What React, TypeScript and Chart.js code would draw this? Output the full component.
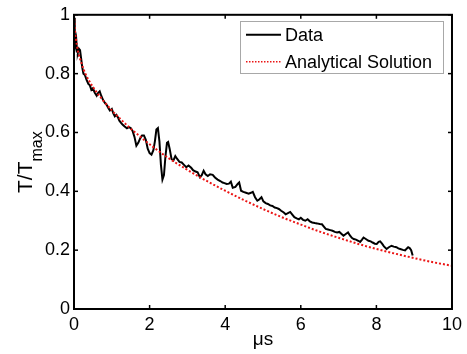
import React, { useEffect, useRef } from "react";
import { Chart, registerables } from "chart.js";
Chart.register(...registerables);

const FONT = "'Liberation Sans', Arial, Helvetica, sans-serif";

const seriesNames = ["Data", "Analytical Solution"];
const xTicks = [0, 2, 4, 6, 8, 10];
const xTickLabels = ["0", "2", "4", "6", "8", "10"];
const yTicks = [0, 0.2, 0.4, 0.6, 0.8, 1];
const yTickLabels = ["0", "0.2", "0.4", "0.6", "0.8", "1"];

const dataT = [
  0.0, 0.02, 0.04, 0.06, 0.08, 0.1, 0.13, 0.16, 0.19, 0.22, 0.25, 0.29, 0.33, 0.38, 0.42, 0.46, 0.5, 0.55, 0.6, 0.64,
  0.68, 0.72, 0.77, 0.82, 0.86, 0.9, 0.95, 1.0, 1.04, 1.08, 1.12, 1.16, 1.2, 1.25, 1.29, 1.34, 1.4, 1.45, 1.5, 1.55,
  1.6, 1.65, 1.7, 1.75, 1.8, 1.85, 1.9, 1.95, 2.0, 2.05, 2.1, 2.14, 2.18, 2.22, 2.26, 2.3, 2.34, 2.38, 2.42, 2.46,
  2.49, 2.53, 2.58, 2.63, 2.68, 2.73, 2.79, 2.85, 2.91, 2.97, 3.03, 3.1, 3.15, 3.2, 3.27, 3.33, 3.38, 3.43, 3.48, 3.54,
  3.6, 3.67, 3.73, 3.8, 3.87, 3.93, 3.98, 4.04, 4.1, 4.15, 4.2, 4.27, 4.33, 4.37, 4.42, 4.48, 4.55, 4.62, 4.68, 4.73,
  4.79, 4.85, 4.9, 4.96, 5.01, 5.07, 5.13, 5.19, 5.25, 5.31, 5.37, 5.42, 5.48, 5.55, 5.6, 5.66, 5.72, 5.77, 5.83, 5.89,
  5.95, 6.0, 6.06, 6.12, 6.18, 6.24, 6.3, 6.37, 6.43, 6.5, 6.56, 6.61, 6.66, 6.72, 6.78, 6.84, 6.9, 6.96, 7.02, 7.08,
  7.13, 7.19, 7.25, 7.3, 7.35, 7.4, 7.46, 7.52, 7.57, 7.62, 7.66, 7.72, 7.79, 7.85, 7.9, 7.96, 8.01, 8.06, 8.1, 8.15,
  8.2, 8.27, 8.33, 8.4, 8.46, 8.53, 8.58, 8.63, 8.7, 8.76, 8.8, 8.84, 8.88, 8.92, 8.96,
];
const dataV = [
  0.99, 0.94, 0.9, 0.915, 0.875, 0.87, 0.885, 0.88, 0.85, 0.82, 0.8, 0.795, 0.78, 0.765, 0.76, 0.745, 0.75, 0.735, 0.725, 0.735,
  0.74, 0.725, 0.71, 0.7, 0.695, 0.685, 0.675, 0.68, 0.665, 0.655, 0.66, 0.652, 0.64, 0.632, 0.626, 0.62, 0.614, 0.618, 0.615, 0.605,
  0.585, 0.555, 0.565, 0.58, 0.59, 0.59, 0.575, 0.545, 0.53, 0.525, 0.54, 0.57, 0.61, 0.615, 0.57, 0.49, 0.44, 0.455, 0.52, 0.565,
  0.568, 0.545, 0.51, 0.505, 0.52, 0.51, 0.5, 0.498, 0.49, 0.482, 0.488, 0.48, 0.472, 0.468, 0.465, 0.448, 0.455, 0.47, 0.458, 0.452,
  0.458, 0.456, 0.447, 0.44, 0.435, 0.43, 0.428, 0.425, 0.426, 0.433, 0.412, 0.415, 0.425, 0.43, 0.402, 0.398, 0.395, 0.392, 0.395, 0.398,
  0.38, 0.368, 0.372, 0.38, 0.366, 0.36, 0.357, 0.352, 0.35, 0.345, 0.343, 0.34, 0.334, 0.328, 0.322, 0.326, 0.33, 0.322, 0.312, 0.308,
  0.305, 0.31, 0.303, 0.3, 0.305, 0.298, 0.294, 0.292, 0.291, 0.289, 0.288, 0.28, 0.272, 0.27, 0.268, 0.266, 0.262, 0.26, 0.262, 0.255,
  0.249, 0.255, 0.26, 0.25, 0.242, 0.238, 0.236, 0.232, 0.228, 0.236, 0.243, 0.238, 0.232, 0.23, 0.226, 0.222, 0.221, 0.228, 0.23, 0.222,
  0.213, 0.204, 0.21, 0.215, 0.212, 0.21, 0.206, 0.204, 0.201, 0.199, 0.205, 0.21, 0.207, 0.2, 0.182,
];

const anaT = [0, 0.02, 0.05, 0.1, 0.2, 0.3, 0.5, 0.75, 1, 1.25, 1.5, 1.75, 2, 2.5, 3, 3.5, 4, 4.5, 5, 5.5, 6, 6.5, 7, 7.5, 8, 8.5, 9, 9.5, 10];
const anaV = [1.0, 0.955, 0.92, 0.88, 0.835, 0.8, 0.755, 0.712, 0.675, 0.643, 0.613, 0.586, 0.56, 0.513, 0.473, 0.436, 0.402, 0.37, 0.34, 0.312, 0.287, 0.263, 0.242, 0.222, 0.204, 0.188, 0.173, 0.159, 0.147];

const RED = "rgb(235,20,20)";

const matlabPlugin = {
  id: "matlabDecor",
  afterDraw(chart: any) {
    const { ctx, chartArea: a, scales } = chart;
    const xs = scales.x;
    const ys = scales.y;
    ctx.save();
    // box
    ctx.strokeStyle = "#000";
    ctx.lineWidth = 2;
    ctx.strokeRect(a.left, a.top, a.right - a.left, a.bottom - a.top);
    // inward ticks
    ctx.lineWidth = 1.5;
    const seg = (x1: number, y1: number, x2: number, y2: number) => {
      ctx.beginPath();
      ctx.moveTo(x1, y1);
      ctx.lineTo(x2, y2);
      ctx.stroke();
    };
    xTicks.forEach((v) => {
      const px = xs.getPixelForValue(v);
      seg(px, a.bottom, px, a.bottom - 4);
      seg(px, a.top, px, a.top + 4);
    });
    yTicks.forEach((v) => {
      const py = ys.getPixelForValue(v);
      seg(a.left, py, a.left + 4, py);
      seg(a.right, py, a.right - 4, py);
    });

    // legend
    const lw = 203, lh = 52;
    const lx = a.right - 9 - lw;
    const ly = a.top + 6;
    ctx.fillStyle = "#fff";
    ctx.fillRect(lx, ly, lw, lh);
    ctx.strokeStyle = "#a8a8a8";
    ctx.lineWidth = 1;
    ctx.strokeRect(Math.round(lx) + 0.5, Math.round(ly) + 0.5, lw, lh);
    ctx.font = `18px ${FONT}`;
    ctx.textBaseline = "middle";
    ctx.textAlign = "left";
    const rows = [ly + 14, ly + 41];
    // row 1
    ctx.strokeStyle = "#000";
    ctx.lineWidth = 2;
    ctx.setLineDash([]);
    seg(lx + 6, rows[0], lx + 41, rows[0]);
    ctx.fillStyle = "#000";
    ctx.fillText(seriesNames[0], lx + 45, rows[0] + 1);
    // row 2
    ctx.strokeStyle = RED;
    ctx.lineWidth = 1.5;
    ctx.setLineDash([1.5, 1.5]);
    seg(lx + 6, rows[1], lx + 41, rows[1]);
    ctx.setLineDash([]);
    ctx.fillStyle = "#000";
    ctx.fillText(seriesNames[1], lx + 45, rows[1] + 1);

    // y title  T/T_max
    ctx.save();
    ctx.translate(32, 193);
    ctx.rotate(-Math.PI / 2);
    ctx.textBaseline = "alphabetic";
    ctx.textAlign = "left";
    ctx.font = `21px ${FONT}`;
    ctx.fillText("T/T", 0, 0);
    const w = ctx.measureText("T/T").width;
    ctx.font = `16px ${FONT}`;
    ctx.fillText("max", w, 10);
    ctx.restore();

    // x title
    ctx.font = `19px ${FONT}`;
    ctx.textAlign = "center";
    ctx.textBaseline = "alphabetic";
    ctx.fillText("μs", (a.left + a.right) / 2, 345);
    ctx.restore();
  },
};

export default function App() {
  const ref = useRef<HTMLCanvasElement | null>(null);
  useEffect(() => {
    const canvas = ref.current;
    if (!canvas) return;
    const chart = new Chart(canvas, {
      type: "line",
      data: {
        datasets: [
          {
            label: seriesNames[0],
            data: dataT.map((t, i) => ({ x: t, y: dataV[i] })),
            borderColor: "#000",
            borderWidth: 2,
            pointRadius: 0,
            tension: 0,
            fill: false,
            order: 1,
          },
          {
            label: seriesNames[1],
            data: anaT.map((t, i) => ({ x: t, y: anaV[i] })),
            borderColor: RED,
            borderWidth: 2,
            borderDash: [2, 2],
            pointRadius: 0,
            cubicInterpolationMode: "monotone",
            fill: false,
            order: 0,
          },
        ],
      },
      options: {
        responsive: false,
        animation: false,
        devicePixelRatio: 1,
        layout: { padding: { top: 12, right: 13, left: 0, bottom: 0 } },
        plugins: { legend: { display: false }, tooltip: { enabled: false } },
        scales: {
          x: {
            type: "linear",
            min: 0,
            max: 10,
            grid: { display: false, drawTicks: false },
            border: { display: false },
            afterBuildTicks: (s: any) => {
              s.ticks = xTicks.map((v) => ({ value: v }));
            },
            afterFit: (s: any) => {
              s.height = 45;
            },
            ticks: {
              padding: 5,
              color: "#000",
              font: { family: FONT, size: 18 },
              maxRotation: 0,
              callback: (v: any) => xTickLabels[xTicks.indexOf(Number(v))] ?? "",
            },
          },
          y: {
            type: "linear",
            min: 0,
            max: 1,
            grid: { display: false, drawTicks: false },
            border: { display: false },
            afterBuildTicks: (s: any) => {
              s.ticks = yTicks.map((v) => ({ value: v }));
            },
            afterFit: (s: any) => {
              s.width = 74;
            },
            ticks: {
              padding: 4,
              color: "#000",
              font: { family: FONT, size: 18 },
              callback: (v: any) => {
                const i = yTicks.findIndex((t) => Math.abs(t - Number(v)) < 1e-9);
                return i >= 0 ? yTickLabels[i] : "";
              },
            },
          },
        },
      },
      plugins: [matlabPlugin],
    });
    return () => chart.destroy();
  }, []);
  return (
    <div style={{ position: "absolute", left: 0, top: 0, width: 467, height: 354, background: "#fff" }}>
      <canvas ref={ref} width={467} height={354} style={{ display: "block" }} />
    </div>
  );
}
